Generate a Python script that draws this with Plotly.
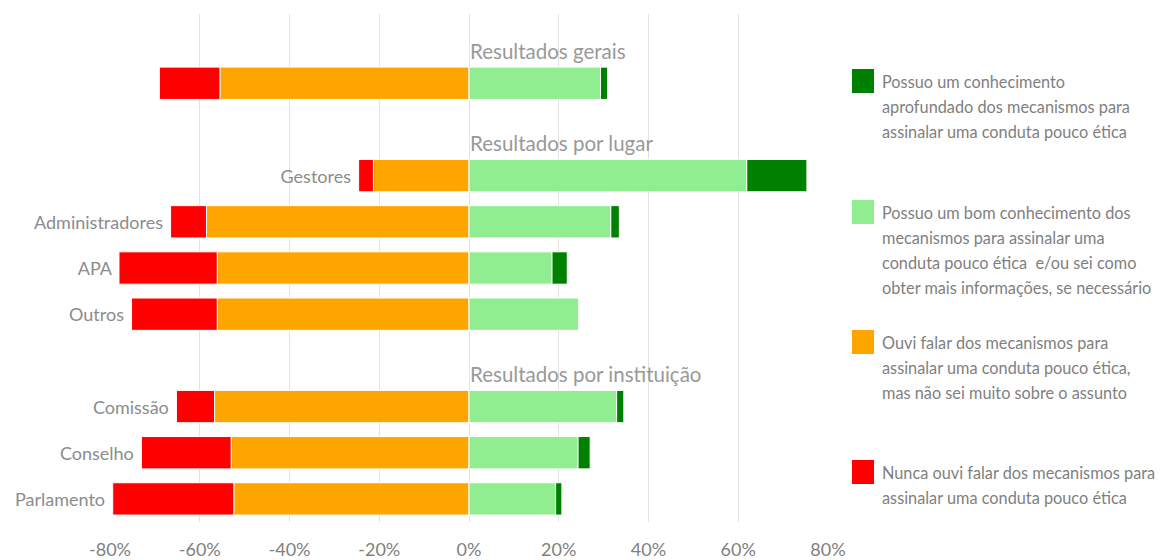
import plotly.graph_objects as go

# ---- data ----
rows = [" ", "  ", "   ", "Gestores", "Administradores", "APA", "Outros",
        "    ", "Comissão", "Conselho", "Parlamento"]
row_labels = ["", "", "", "Gestores", "Administradores", "APA", "Outros",
              "", "Comissão", "Conselho", "Parlamento"]
nunca = [None, -13.5, None, -3.3, -8.0, -21.9, -19.1, None, -8.5, -20.0, -27.0]
ouvi = [None, -55.5, None, -21.3, -58.5, -56.1, -56.1, None, -56.7, -53.0, -52.4]
bom = [None, 29.3, None, 61.9, 31.6, 18.5, 24.5, None, 32.9, 24.3, 19.3]
aprof = [None, 1.6, None, 13.4, 1.9, 3.4, 0.0, None, 1.6, 2.7, 1.4]

headers = ["Resultados gerais", "Resultados por lugar", "Resultados por instituição"]
header_rows = [" ", "   ", "    "]

tick_vals = [-80, -60, -40, -20, 0, 20, 40, 60, 80]
tick_text = ["-80%", "-60%", "-40%", "-20%", "0%", "20%", "40%", "60%", "80%"]

legend_names = [
    "Possuo um conhecimento aprofundado dos mecanismos para assinalar uma conduta pouco ética",
    "Possuo um bom conhecimento dos mecanismos para assinalar uma conduta pouco ética e/ou sei como obter mais informações, se necessário",
    "Ouvi falar dos mecanismos para assinalar uma conduta pouco ética, mas não sei muito sobre o assunto",
    "Nunca ouvi falar dos mecanismos para assinalar uma conduta pouco ética",
]
legend_lines = [
    ["Possuo um conhecimento", "aprofundado dos mecanismos para",
     "assinalar uma conduta pouco ética"],
    ["Possuo um bom conhecimento dos", "mecanismos para assinalar uma",
     "conduta pouco ética  e/ou sei como", "obter mais informações, se necessário"],
    ["Ouvi falar dos mecanismos para", "assinalar uma conduta pouco ética,",
     "mas não sei muito sobre o assunto"],
    ["Nunca ouvi falar dos mecanismos para", "assinalar uma conduta pouco ética"],
]

# ---- style ----
C_DARK = "#008000"
C_LIGHT = "#90EE90"
C_ORANGE = "#FFA500"
C_RED = "#FF0000"
legend_colors = [C_DARK, C_LIGHT, C_ORANGE, C_RED]
FONT = "Lato"
GRAY = "#8c8c8c"
TICKGRAY = "#7f7f7f"

W, H = 1161, 560
L, R, T, B = 110, 333, 14, 38
PW, PH = W - L - R, H - T - B


def px(x):
    return (x - L) / PW


def py(y):
    return (H - B - y) / PH


fig = go.Figure()
line = dict(color="white", width=1)
fig.add_trace(go.Bar(y=rows, x=ouvi, orientation="h", marker=dict(color=C_ORANGE, line=line),
                     name=legend_names[2], hoverinfo="x+name"))
fig.add_trace(go.Bar(y=rows, x=nunca, orientation="h", marker=dict(color=C_RED, line=line),
                     name=legend_names[3], text=[t + " " if t else "" for t in row_labels],
                     textposition="outside", cliponaxis=False,
                     textfont=dict(family=FONT, size=18, color=GRAY), hoverinfo="x+name"))
fig.add_trace(go.Bar(y=rows, x=bom, orientation="h", marker=dict(color=C_LIGHT, line=line),
                     name=legend_names[1], hoverinfo="x+name"))
fig.add_trace(go.Bar(y=rows, x=aprof, orientation="h", marker=dict(color=C_DARK, line=line),
                     name=legend_names[0], hoverinfo="x+name"))

annotations = []
for h, r in zip(headers, header_rows):
    annotations.append(dict(x=0, y=r, xref="x", yref="y", text=h, showarrow=False,
                            xanchor="left", yanchor="middle", yshift=-14, xshift=-1,
                            font=dict(family=FONT, size=20.5, color="#999999")))

shapes = []
item_centers = [81, 212, 342, 472]
for color, lines, yc in zip(legend_colors, legend_lines, item_centers):
    shapes.append(dict(type="rect", xref="paper", yref="paper",
                       x0=px(852), x1=px(874), y0=py(yc - 12), y1=py(yc + 12),
                       fillcolor=color, line=dict(width=0)))
    for k, t in enumerate(lines):
        annotations.append(dict(x=px(880), y=py(yc + k * 25.3), xref="paper", yref="paper",
                                text=t, showarrow=False, xanchor="left", yanchor="middle",
                                font=dict(family=FONT, size=16.3, color=TICKGRAY)))

fig.update_layout(
    width=W, height=H,
    margin=dict(l=L, r=R, t=T, b=B, autoexpand=False),
    barmode="relative",
    bargap=0.3,
    plot_bgcolor="white", paper_bgcolor="white",
    showlegend=False,
    font=dict(family=FONT, color=TICKGRAY),
    xaxis=dict(range=[-80, 80], tickvals=tick_vals, ticktext=tick_text,
               showgrid=True, gridcolor="#e3e3e3", gridwidth=1, automargin=False,
               zeroline=False, showline=False, ticks="", ticklabelstandoff=15,
               tickfont=dict(family=FONT, size=18, color=TICKGRAY)),
    yaxis=dict(categoryorder="array", categoryarray=rows, range=[10.5, -0.5],
               automargin=False,
               showticklabels=False, showgrid=False, zeroline=False, showline=False),
    annotations=annotations,
    shapes=shapes,
)

fig.write_html("out.html", config={"displayModeBar": False},
               post_script="document.body.style.margin='0';document.body.style.overflow='hidden';")
